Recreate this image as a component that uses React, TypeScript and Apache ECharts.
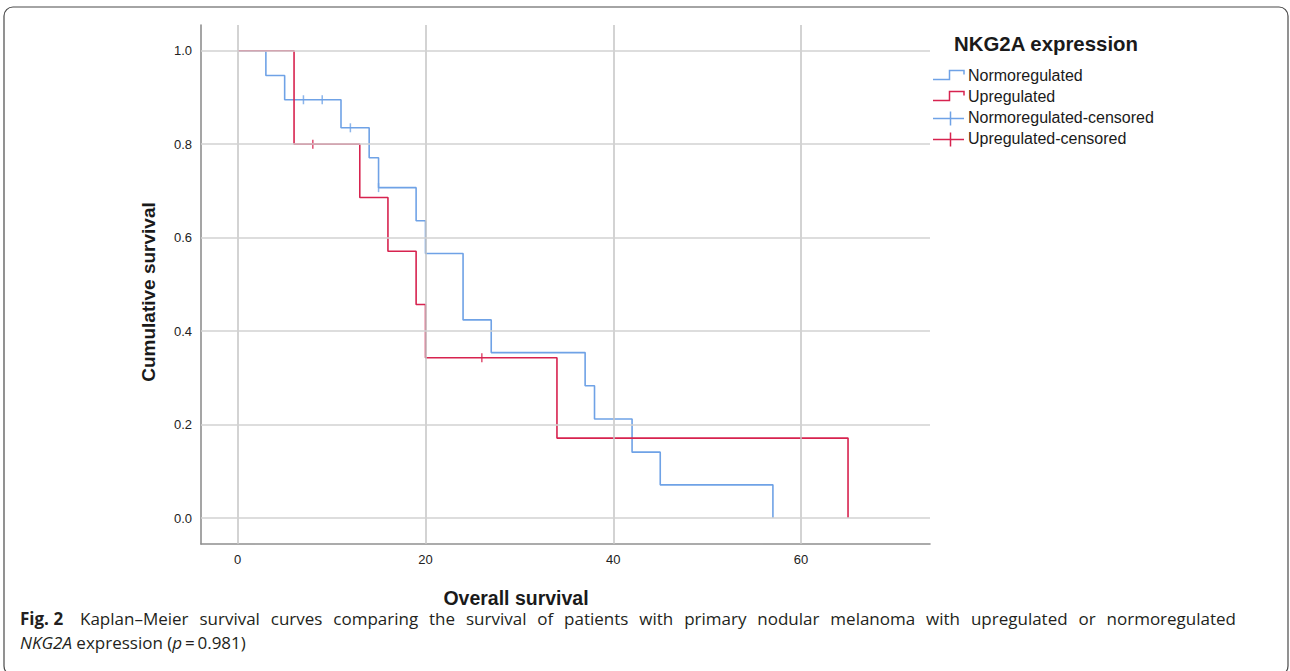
import React, { useEffect, useRef } from 'react';
import * as echarts from 'echarts';

// Kaplan–Meier step data (time, cumulative survival)
const normoTimes = [0, 3, 5, 11, 14, 15, 19, 20, 24, 27, 37, 38, 42, 45, 57];
const normoSurv = [1, 0.947, 0.895, 0.835, 0.771, 0.707, 0.636, 0.566, 0.424, 0.354, 0.283, 0.212, 0.141, 0.071, 0];
const upTimes = [0, 6, 13, 16, 19, 20, 34, 65];
const upSurv = [1, 0.8, 0.686, 0.571, 0.457, 0.343, 0.171, 0];
// censored observations
const normoCensTimes = [7, 9, 12, 15];
const normoCensSurv = [0.895, 0.895, 0.835, 0.707];
const upCensTimes = [8, 26];
const upCensSurv = [0.8, 0.343];

const xTicks = [0, 20, 40, 60];
const yTicks = [0, 0.2, 0.4, 0.6, 0.8, 1.0];

const legendTitle = 'NKG2A expression';
const legendLabels = ['Normoregulated', 'Upregulated', 'Normoregulated-censored', 'Upregulated-censored'];
const xTitle = 'Overall survival';
const yTitle = 'Cumulative survival';
const captionLabel = 'Fig. 2';
const captionLine1 = 'Kaplan–Meier survival curves comparing the survival of patients with primary nodular melanoma with upregulated or normoregulated';

const BLUE = '#6fa2e6';
const RED = '#d7234f';
const FONT = '"Liberation Sans", Arial, sans-serif';
const CAP_FONT = '"Open Sans", "Noto Sans", sans-serif';
const CAP_SIZE = 17;

const zip = (a: number[], b: number[]) => a.map((v, i) => [v, b[i]]);

function legendGraphics() {
  const els: any[] = [];
  els.push({
    type: 'text', left: 954, top: 34,
    style: { text: legendTitle, font: `bold 20.4px ${FONT}`, fill: '#1a1a1a' },
  });
  const centers = [76.5, 97.5, 118.5, 139.5];
  const colors = [BLUE, RED, BLUE, RED];
  legendLabels.forEach((lab, i) => {
    const c = centers[i];
    if (i < 2) {
      els.push({
        type: 'polyline',
        shape: { points: [[933, c + 3], [949.5, c + 3], [949.5, c - 6], [964, c - 6], [964, c - 2]] },
        style: { stroke: colors[i], lineWidth: 1.5, fill: 'none' },
      });
    } else {
      els.push({ type: 'line', shape: { x1: 933, y1: c, x2: 964, y2: c }, style: { stroke: colors[i], lineWidth: 1.5 } });
      els.push({ type: 'line', shape: { x1: 950.5, y1: c - 7, x2: 950.5, y2: c + 7 }, style: { stroke: colors[i], lineWidth: 1.5 } });
    }
    els.push({
      type: 'text', left: 968, top: c - 9,
      style: { text: lab, font: `16px ${FONT}`, fill: '#1a1a1a' },
    });
  });
  return els;
}

// justified first caption line: words spread between x0 and x1
function justifiedCaption(x0: number, x1: number, y: number, font: string) {
  const words = captionLine1.split(' ');
  const canvas = document.createElement('canvas');
  const ctx = canvas.getContext('2d')!;
  ctx.font = font;
  const widths = words.map((w) => ctx.measureText(w).width);
  const total = widths.reduce((a, b) => a + b, 0);
  const gap = (x1 - x0 - total) / (words.length - 1);
  const els: any[] = [];
  let x = x0;
  words.forEach((w, i) => {
    els.push({
      type: 'text', x, y,
      style: { text: w, font, fill: '#231f20', verticalAlign: 'middle' },
    });
    x += widths[i] + gap;
  });
  return els;
}

export default function App() {
  const ref = useRef<HTMLDivElement>(null);
  useEffect(() => {
    const chart = echarts.init(ref.current!, null, { renderer: 'svg' });
    const option: any = {
      animation: false,
      backgroundColor: '#ffffff',
      grid: { left: 201, top: 25, width: 729, height: 519, containLabel: false },
      xAxis: {
        type: 'value', min: -3.91, max: 73.73,
        axisLine: { show: true, onZero: false, lineStyle: { color: '#8f8f8f', width: 1.6 } },
        axisTick: { show: false, customValues: xTicks },
        axisLabel: { customValues: xTicks, color: '#222', fontSize: 13, fontFamily: FONT, margin: 9 },
        splitLine: { show: false },
      },
      yAxis: {
        type: 'value', min: -0.0556, max: 1.055,
        axisLine: { show: true, onZero: false, lineStyle: { color: '#8f8f8f', width: 1.6 } },
        axisTick: { show: false, customValues: yTicks },
        axisLabel: { customValues: yTicks, color: '#222', fontSize: 13, fontFamily: FONT, margin: 9, formatter: (v: number) => v.toFixed(1) },
        splitLine: { show: false },
      },
      series: [
        {
          type: 'line', data: [], silent: true,
          markLine: {
            silent: true, symbol: 'none', label: { show: false },
            lineStyle: { type: 'solid', color: '#c4c4c4', width: 1.5 },
            data: xTicks.map((v) => ({ xAxis: v })),
          },
        },
        {
          type: 'line', data: [], silent: true,
          markLine: {
            silent: true, symbol: 'none', label: { show: false },
            lineStyle: { type: 'solid', color: '#d2d2d2', width: 1.5 },
            data: yTicks.map((v) => ({ yAxis: v })),
          },
        },
        {
          name: legendLabels[0], type: 'line', step: 'end', data: zip(normoTimes, normoSurv),
          showSymbol: false, lineStyle: { color: BLUE, width: 1.6 }, itemStyle: { color: BLUE },
        },
        {
          name: legendLabels[1], type: 'line', step: 'end', data: zip(upTimes, upSurv),
          showSymbol: false, lineStyle: { color: RED, width: 1.6 }, itemStyle: { color: RED },
        },
        {
          name: legendLabels[2], type: 'scatter', data: zip(normoCensTimes, normoCensSurv),
          symbol: 'rect', symbolSize: [1.5, 9], itemStyle: { color: BLUE },
        },
        {
          name: legendLabels[3], type: 'scatter', data: zip(upCensTimes, upCensSurv),
          symbol: 'rect', symbolSize: [1.5, 9], itemStyle: { color: RED },
        },
      ],
      graphic: [
        {
          type: 'rect', shape: { x: 4, y: 7, width: 1284, height: 668, r: 9 },
          style: { fill: 'none', stroke: '#4a4a4a', lineWidth: 1.2 }, silent: true,
        },
        {
          type: 'text', x: 148, y: 292, rotation: Math.PI / 2,
          style: { text: yTitle, font: `bold 19px ${FONT}`, fill: '#1a1a1a', align: 'center', verticalAlign: 'middle' },
        },
        {
          type: 'text', x: 516, y: 598,
          style: { text: xTitle, font: `bold 19.5px ${FONT}`, fill: '#1a1a1a', align: 'center', verticalAlign: 'middle' },
        },
        ...legendGraphics(),
        {
          type: 'text', x: 20, y: 618,
          style: { text: captionLabel, font: `bold ${CAP_SIZE}px ${CAP_FONT}`, fill: '#231f20', verticalAlign: 'middle' },
        },
        ...justifiedCaption(80, 1236, 618, `${CAP_SIZE}px ${CAP_FONT}`),
        {
          type: 'text', x: 20, y: 642,
          style: {
            text: '{i|NKG2A} expression ({i|p}\u2009=\u20090.981)',
            font: `${CAP_SIZE}px ${CAP_FONT}`, fill: '#231f20', verticalAlign: 'middle',
            rich: { i: { fontStyle: 'italic', fontSize: CAP_SIZE, fontFamily: CAP_FONT, fill: '#231f20' } },
          },
        },
      ],
    };
    chart.setOption(option);
    return () => chart.dispose();
  }, []);
  return (
    <div
      ref={ref}
      style={{ position: 'absolute', left: 0, top: 0, width: 1290, height: 671, background: '#fff' }}
    />
  );
}
